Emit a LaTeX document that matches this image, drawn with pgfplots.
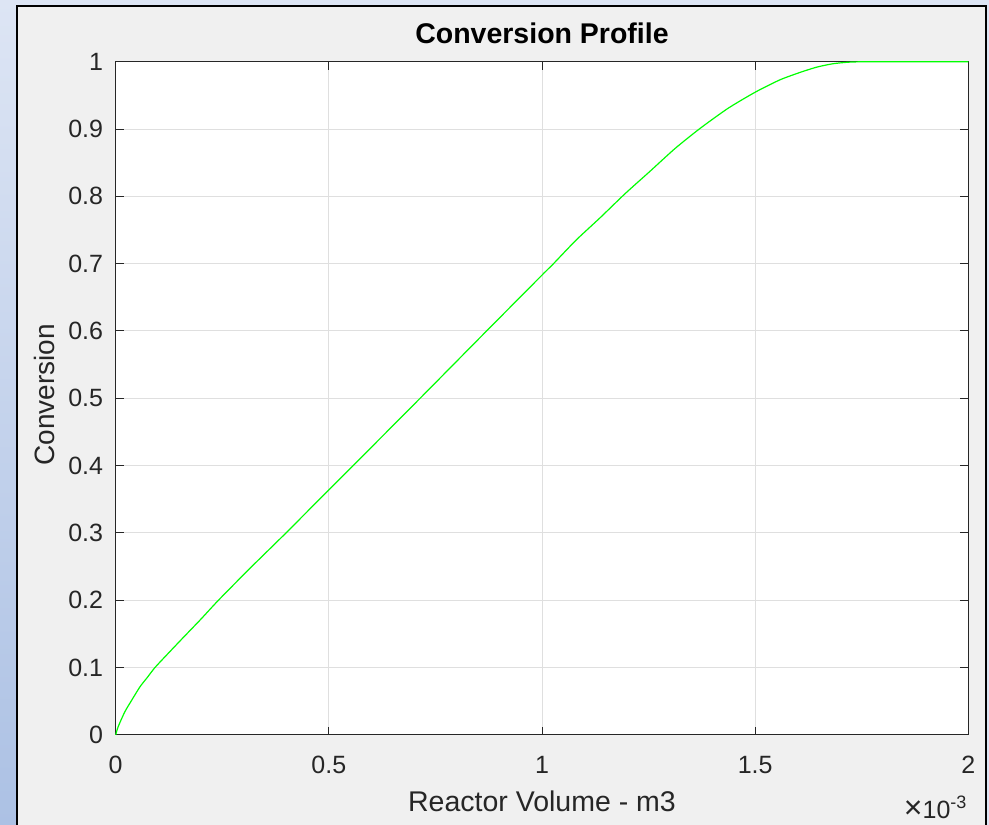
\documentclass[border=0pt]{standalone}
\usepackage{fontspec}
\setmainfont{Liberation Sans}
\usepackage{pgfplots}
\usepackage{pgfplotstable}
\pgfplotsset{compat=1.18}

\definecolor{figgray}{RGB}{240,240,240}
\definecolor{axgray}{RGB}{38,38,38}
\definecolor{gridgray}{RGB}{223,223,223}
\definecolor{bluetop}{RGB}{221,229,244}
\definecolor{bluebot}{RGB}{172,193,228}
\definecolor{matgreen}{RGB}{0,255,0}

% reactor volume (x 1e-3 m3) vs conversion
\pgfplotstableread{
V      X
0      0
0.004  0.009
0.010  0.0185
0.022  0.035
0.038  0.052
0.057  0.0715
0.075  0.086
0.092  0.100
0.123  0.121
0.153  0.141
0.200  0.172
0.241  0.200
0.315  0.2475
0.3995 0.300
0.500  0.364
0.557  0.400
0.714  0.500
0.870  0.600
1.000  0.683
1.027  0.700
1.080  0.735
1.136  0.768
1.195  0.804
1.253  0.837
1.312  0.871
1.371  0.901
1.437  0.931
1.501  0.955
1.558  0.973
1.605  0.984
1.645  0.992
1.683  0.997
1.720  0.9993
1.762  1.000
1.850  1.000
2.000  1.000
}\conv

\begin{document}
\begin{tikzpicture}[x=1pt,y=1pt]
\path[use as bounding box] (0,0) rectangle (989,825);
\fill[bluetop] (0,0) rectangle (989,825);
\shade[top color=bluetop, bottom color=bluebot] (0,0) rectangle (17,825);
\fill[figgray] (17,-5) rectangle (986,819);
\draw[black, line width=2pt] (17,-5) -- (17,819) -- (986,819) -- (986,-5);
\begin{axis}[
  at={(115.7pt,90.1pt)}, anchor=south west,
  scale only axis, width=852.6pt, height=673.2pt,
  xmin=0, xmax=2, ymin=0, ymax=1,
  xtick={0,0.5,1,1.5,2}, xticklabels={0,0.5,1,1.5,2},
  ytick={0,0.1,0.2,0.3,0.4,0.5,0.6,0.7,0.8,0.9,1},
  yticklabels={0,0.1,0.2,0.3,0.4,0.5,0.6,0.7,0.8,0.9,1},
  tick pos=both, tick align=inside, major tick length=8pt,
  tick style={axgray, line width=1pt},
  grid=major, major grid style={gridgray, line width=1pt},
  axis line style={axgray, line width=1.2pt},
  axis background/.style={fill=white},
  ticklabel style={font=\fontsize{25}{30}\selectfont, text=axgray},
  xticklabel style={anchor=north, inner sep=0pt, yshift=-21pt},
  yticklabel style={anchor=east, inner sep=0pt, xshift=-12.4pt},
  title={Conversion Profile},
  title style={font=\bfseries\fontsize{28.5}{32}\selectfont, text=black,
    at={(axis description cs:0.5,1.0174)}, anchor=base, inner sep=0pt},
  xlabel={Reactor Volume - m3},
  xlabel style={font=\fontsize{28.5}{32}\selectfont, text=axgray,
    at={(axis description cs:0.5,-0.1141)}, anchor=base, inner sep=0pt},
  ylabel={Conversion},
  ylabel style={font=\fontsize{28}{32}\selectfont, text=axgray,
    at={(axis description cs:-0.0712,0.505)}, anchor=base, inner sep=0pt},
  clip=false,
]
\addplot[matgreen, line width=1.2pt, smooth, tension=0.4] table[x=V, y=X] {\conv};
\node[anchor=base east, inner sep=0pt, font=\fontsize{25}{30}\selectfont, text=axgray]
  at (axis description cs:0.9981,-0.1239) {{\fontsize{32}{32}\selectfont ×}10\raisebox{10.3pt}{\fontsize{18}{20}\selectfont -3}};
\end{axis}
\end{tikzpicture}
\end{document}
